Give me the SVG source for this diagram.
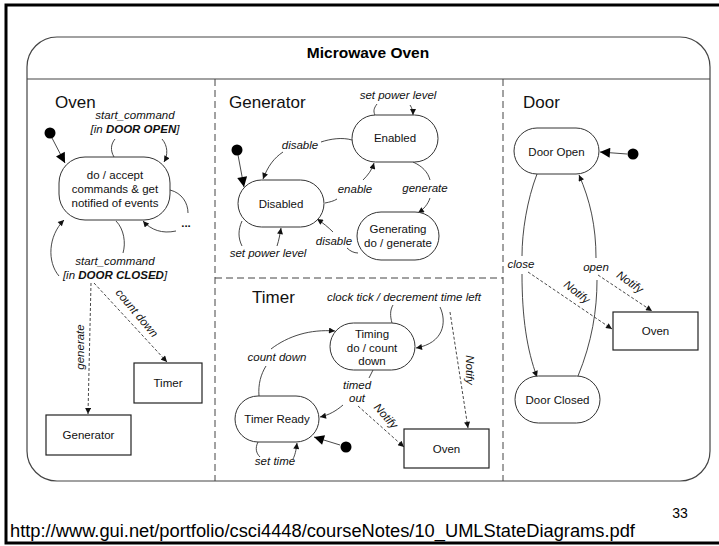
<svg xmlns="http://www.w3.org/2000/svg" width="719" height="546" viewBox="0 0 719 546">
<style>
.st{fill:#fff;stroke:#333;stroke-width:1}
.bx{fill:#fff;stroke:#222;stroke-width:1.2}
.t{font-family:"Liberation Sans",Arial,sans-serif;font-size:11.5px;fill:#111;text-anchor:middle}
.i{font-style:italic}
.h{font-family:"Liberation Sans",Arial,sans-serif;font-size:17px;fill:#111}
.c{fill:none;stroke:#333;stroke-width:0.9}
.d{fill:none;stroke:#333;stroke-width:0.9;stroke-dasharray:3 2}
.sep{fill:none;stroke:#444;stroke-width:1;stroke-dasharray:7 4}
.dot{fill:#000}
</style>
<defs>
<marker id="a" viewBox="0 0 10 10" refX="10" refY="5" markerWidth="7" markerHeight="6" markerUnits="userSpaceOnUse" orient="auto"><path d="M0,0 L10,5 L0,10 z" fill="#111"/></marker>
<marker id="b" viewBox="0 0 10 10" refX="10" refY="5" markerWidth="12" markerHeight="10" markerUnits="userSpaceOnUse" orient="auto"><path d="M0,0 L10,5 L0,10 z" fill="#000"/></marker>
</defs>
<rect width="719" height="546" fill="#fff"/>
<path d="M719,5 H6 V543 H719" fill="none" stroke="#000" stroke-width="3"/>

<g id="frame">
<rect x="27" y="37" width="683" height="444" rx="30" fill="none" stroke="#444" stroke-width="1.2"/>
<line x1="27" y1="79" x2="710" y2="79" stroke="#444" stroke-width="1.2"/>
<text x="368" y="58" font-family="Liberation Sans,Arial,sans-serif" font-size="15.5" font-weight="bold" text-anchor="middle" fill="#000">Microwave Oven</text>
<path class="sep" d="M215,79 V481 M503,79 V481 M215,278 H503"/>
<text class="h" x="55" y="108">Oven</text>
<text class="h" x="229" y="108">Generator</text>
<text class="h" x="252" y="303">Timer</text>
<text class="h" x="523" y="108">Door</text>
</g>

<g id="connectors">
<!-- Oven -->
<circle class="dot" cx="50" cy="133" r="5.5"/>
<path class="c" d="M52,138 L65,163" marker-end="url(#b)"/>
<path class="c" d="M114,157 C110,150 111,144 115,139"/>
<path class="c" d="M162,139 C168,146 168,155 164,162" marker-end="url(#a)"/>
<path class="c" d="M170,190 C182,193 188,203 188,213"/>
<path class="c" d="M176,231 C162,234 151,230 143,221" marker-end="url(#a)"/>
<path class="c" d="M116,221 C124,229 126,243 123,253"/>
<path class="c" d="M59,276 C47,262 48,236 64,220" marker-end="url(#a)"/>
<path class="d" d="M91,283 L88,414" marker-end="url(#a)"/>
<path class="d" d="M94,283 L167,362" marker-end="url(#a)"/>
<!-- Generator -->
<circle class="dot" cx="237" cy="150" r="5.5"/>
<path class="c" d="M238,155 L244,187" marker-end="url(#b)"/>
<path class="c" d="M352,140 C342,137 330,139 321,142"/>
<path class="c" d="M283,152 C274,158 268,166 263,179" marker-end="url(#a)"/>
<path class="c" d="M325,203 C330,202 334,201 337,199"/>
<path class="c" d="M363,180 C368,175 372,170 374,163" marker-end="url(#a)"/>
<path class="c" d="M413,162 C422,166 428,172 430,180"/>
<path class="c" d="M430,198 C428,204 424,209 418,213" marker-end="url(#a)"/>
<path class="c" d="M358,253 C354,253 350,251 347,248"/>
<path class="c" d="M333,232 C328,227 323,223 317,219" marker-end="url(#a)"/>
<path class="c" d="M375,115 C373,111 374,108 377,104"/>
<path class="c" d="M410,105 C412,108 413,111 413,115" marker-end="url(#a)"/>
<path class="c" d="M242,221 C238,230 238,238 242,246"/>
<path class="c" d="M277,246 C279,240 280,234 281,228" marker-end="url(#a)"/>
<!-- Timer -->
<path class="c" d="M392,323 C390,316 390,310 393,305"/>
<path class="c" d="M440,307 C447,322 444,343 416,348" marker-end="url(#a)"/>
<path class="c" d="M259,396 C258,384 261,374 266,366"/>
<path class="c" d="M271,349 C288,336 310,329 335,331" marker-end="url(#a)"/>
<path class="c" d="M373,370 L369,378"/>
<path class="c" d="M343,405 C336,411 329,415 320,417" marker-end="url(#a)"/>
<circle class="dot" cx="346" cy="447" r="5.5"/>
<path class="c" d="M340,445 L314,437" marker-end="url(#b)"/>
<path class="c" d="M258,442 C255,448 256,453 260,457"/>
<path class="c" d="M293,459 C295,455 296,451 297,443" marker-end="url(#a)"/>
<path class="d" d="M450,312 L468,428" marker-end="url(#a)"/>
<path class="d" d="M358,406 L404,447" marker-end="url(#a)"/>
<!-- Door -->
<circle class="dot" cx="633" cy="154" r="5.5"/>
<path class="c" d="M627,154 L600,152" marker-end="url(#b)"/>
<path class="c" d="M537,174 C527,200 522,232 522,256"/>
<path class="c" d="M522,274 C522,318 527,350 537,377" marker-end="url(#a)"/>
<path class="c" d="M578,376 C592,342 597,310 597,280"/>
<path class="c" d="M596,258 C596,226 590,200 579,175" marker-end="url(#a)"/>
<path class="d" d="M528,272 L612,329" marker-end="url(#a)"/>
<path class="d" d="M598,275 L652,311" marker-end="url(#a)"/>

<!-- labels -->
<text class="t i" x="135" y="119">start_command</text>
<text class="t i" x="135" y="133">[in <tspan font-weight="bold">DOOR OPEN</tspan>]</text>
<text class="t" x="186" y="227" font-weight="bold">...</text>
<text class="t i" x="115" y="265">start_command</text>
<text class="t i" x="115" y="279">[in <tspan font-weight="bold">DOOR CLOSED</tspan>]</text>
<text class="t i" transform="translate(80,347) rotate(-90)" y="4">generate</text>
<text class="t i" transform="translate(137,313) rotate(50)" y="4">count down</text>
<text class="t i" x="398" y="99">set power level</text>
<text class="t i" x="300" y="149">disable</text>
<text class="t i" x="355" y="193">enable</text>
<text class="t i" x="425" y="192">generate</text>
<text class="t i" x="334" y="245">disable</text>
<text class="t i" x="268" y="257">set power level</text>
<text class="t i" x="404" y="301">clock tick / decrement time left</text>
<text class="t i" x="277" y="361">count down</text>
<text class="t i" x="357" y="389">timed</text>
<text class="t i" x="357" y="402">out</text>
<text class="t i" x="275" y="465">set time</text>
<text class="t i" transform="translate(470,370) rotate(90)" y="4">Notify</text>
<text class="t i" transform="translate(386,416) rotate(48)" y="4">Notify</text>
<text class="t i" x="521" y="268">close</text>
<text class="t i" x="596" y="271">open</text>
<text class="t i" transform="translate(577,292) rotate(38)" y="4">Notify</text>
<text class="t i" transform="translate(630,282) rotate(35)" y="4">Notify</text>
</g>

<g id="oven-main">
<rect class="st" x="59" y="157" width="111" height="63" rx="26"/>
<text class="t" x="115" y="179">do / accept</text>
<text class="t" x="115" y="193">commands &amp; get</text>
<text class="t" x="115" y="206.5">notified of events</text>
</g>
<g id="oven-timer"><rect class="bx" x="134" y="363" width="68" height="40"/><text class="t" x="168" y="387">Timer</text></g>
<g id="oven-generator"><rect class="bx" x="46" y="415" width="85" height="40"/><text class="t" x="88.5" y="439">Generator</text></g>

<g id="disabled"><rect class="st" x="238" y="180" width="86" height="47" rx="23.5"/><text class="t" x="281" y="207.5">Disabled</text></g>
<g id="enabled"><rect class="st" x="352" y="115" width="86" height="47" rx="23.5"/><text class="t" x="395" y="142">Enabled</text></g>
<g id="generating"><rect class="st" x="357" y="212" width="82" height="48" rx="24"/><text class="t" x="398" y="233">Generating</text><text class="t" x="398" y="247">do / generate</text></g>

<g id="timing"><rect class="st" x="330" y="323" width="85" height="47" rx="23.5"/><text class="t" x="372" y="337.5">Timing</text><text class="t" x="372" y="351.5">do / count</text><text class="t" x="372" y="365">down</text></g>
<g id="timer-ready"><rect class="st" x="235" y="396" width="84" height="46" rx="23"/><text class="t" x="277" y="423">Timer Ready</text></g>
<g id="timer-oven"><rect class="bx" x="404" y="429" width="85" height="39"/><text class="t" x="446.5" y="453">Oven</text></g>

<g id="door-open"><rect class="st" x="514" y="128" width="85" height="46" rx="23"/><text class="t" x="556.5" y="156">Door Open</text></g>
<g id="door-closed"><rect class="st" x="515" y="376" width="85" height="47" rx="23.5"/><text class="t" x="557.5" y="403.5">Door Closed</text></g>
<g id="door-oven"><rect class="bx" x="613" y="312" width="85" height="38"/><text class="t" x="655.5" y="335">Oven</text></g>

<g id="footer">
<text x="680" y="518" font-family="Liberation Sans,Arial,sans-serif" font-size="14" fill="#000" text-anchor="middle">33</text>
<text x="10" y="537" font-family="Liberation Sans,Arial,sans-serif" font-size="18.3" fill="#000">http://www.gui.net/portfolio/csci4448/courseNotes/10_UMLStateDiagrams.pdf</text>
</g>
</svg>
